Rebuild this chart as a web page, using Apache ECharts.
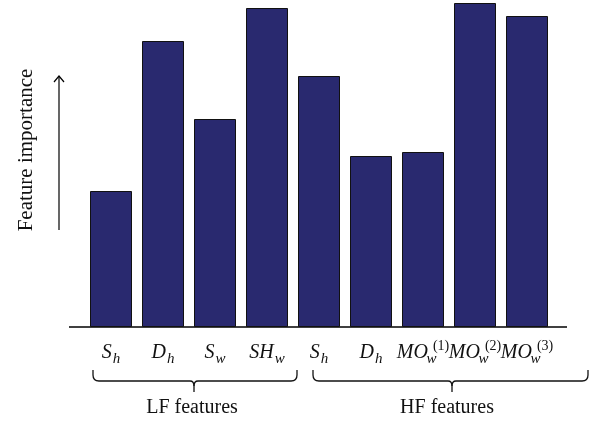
<!DOCTYPE html>
<html>
<head>
<meta charset="utf-8">
<script src="https://cdn.jsdelivr.net/npm/echarts@6/dist/echarts.min.js"></script>
<style>html,body{margin:0;padding:0;background:#fff}#c{width:599px;height:423px}</style>
</head>
<body>
<div id="c"></div>
<script>
// Data
var categories = ['S_h (LF)', 'D_h (LF)', 'S_w (LF)', 'SH_w (LF)', 'S_h (HF)', 'D_h (HF)', 'MO_w(1)', 'MO_w(2)', 'MO_w(3)'];
var labelBase = ['S', 'D', 'S', 'SH', 'S', 'D', 'MO', 'MO', 'MO'];
var labelSub  = ['h', 'h', 'w', 'w', 'h', 'h', 'w', 'w', 'w'];
var labelSup  = ['', '', '', '', '', '', '(1)', '(2)', '(3)'];
var importance = [136, 286, 208, 319, 251, 171, 175, 324, 311];
var groupNames = ['LF features', 'HF features'];

var serif = '"Liberation Serif", "DejaVu Serif", serif';
var chart = echarts.init(document.getElementById('c'));

function brace(x1, x2, y, mid) {
  var r = 6, st = { stroke: '#111', lineWidth: 1.3, fill: null };
  return [
    { type: 'line', shape: { x1: x1, y1: y - 11, x2: x1, y2: y - r }, style: st },
    { type: 'bezierCurve', shape: { x1: x1, y1: y - r, cpx1: x1, cpy1: y, x2: x1 + r, y2: y }, style: st },
    { type: 'line', shape: { x1: x1 + r, y1: y, x2: mid - 4, y2: y }, style: st },
    { type: 'bezierCurve', shape: { x1: mid - 4, y1: y, cpx1: mid, cpy1: y, x2: mid, y2: y + 5 }, style: st },
    { type: 'bezierCurve', shape: { x1: mid + 4, y1: y, cpx1: mid, cpy1: y, x2: mid, y2: y + 5 }, style: st },
    { type: 'line', shape: { x1: mid, y1: y + 5, x2: mid, y2: y + 11 }, style: st },
    { type: 'line', shape: { x1: mid + 4, y1: y, x2: x2 - r, y2: y }, style: st },
    { type: 'bezierCurve', shape: { x1: x2 - r, y1: y, cpx1: x2, cpy1: y, x2: x2, y2: y - r }, style: st },
    { type: 'line', shape: { x1: x2, y1: y - r, x2: x2, y2: y - 11 }, style: st }
  ];
}

var graphics = [
  { type: 'line', shape: { x1: 69, y1: 327, x2: 567, y2: 327 }, style: { stroke: '#000', lineWidth: 1.5 } },
  { type: 'line', shape: { x1: 59, y1: 230, x2: 59, y2: 76 }, style: { stroke: '#000', lineWidth: 1.2 } },
  { type: 'polyline', shape: { points: [[54, 82], [59, 76], [64, 82]] }, style: { stroke: '#000', lineWidth: 1.2, fill: null } },
  { type: 'text', x: 26, y: 150, rotation: Math.PI / 2, style: { text: 'Feature importance', font: '21px ' + serif, fill: '#111', align: 'center', verticalAlign: 'middle' } },
  { type: 'text', x: 192, y: 408, style: { text: groupNames[0], font: '20px ' + serif, fill: '#111', align: 'center', verticalAlign: 'middle' } },
  { type: 'text', x: 447, y: 408, style: { text: groupNames[1], font: '20px ' + serif, fill: '#111', align: 'center', verticalAlign: 'middle' } }
].concat(brace(93, 297, 381, 194)).concat(brace(313, 588, 381, 452));

chart.setOption({
  animation: false,
  grid: { left: 85, right: 46, top: 0, bottom: 96 },
  xAxis: {
    type: 'category',
    data: categories,
    axisLine: { show: false },
    axisTick: { show: false },
    axisLabel: {
      margin: 12,
      interval: 0,
      formatter: function (v, i) {
        var s = '{b|' + labelBase[i] + '}';
        if (labelSup[i]) {
          s += '{s0|' + labelSub[i] + '}{p|' + labelSup[i] + '}';
        } else {
          s += '{s|' + labelSub[i] + '}';
        }
        return s;
      },
      rich: {
        b: { fontFamily: serif, fontStyle: 'italic', fontSize: 20, color: '#111', lineHeight: 28 },
        s: { fontFamily: serif, fontStyle: 'italic', fontSize: 15, color: '#111', lineHeight: 16, verticalAlign: 'bottom', padding: [0, 0, 0, 1] },
        s0: { fontFamily: serif, fontStyle: 'italic', fontSize: 15, color: '#111', lineHeight: 16, verticalAlign: 'bottom', width: 1, padding: [0, 0, 0, 3] },
        p: { fontFamily: serif, fontSize: 14, color: '#111', lineHeight: 13, verticalAlign: 'top', padding: [0, 0, 0, 1] }
      }
    }
  },
  yAxis: {
    type: 'value',
    min: 0,
    max: 327,
    show: false
  },
  series: [{
    type: 'bar',
    data: importance,
    barWidth: 42,
    itemStyle: { color: '#29296f', borderColor: '#111', borderWidth: 1 }
  }],
  graphic: graphics
});
</script>
</body>
</html>
